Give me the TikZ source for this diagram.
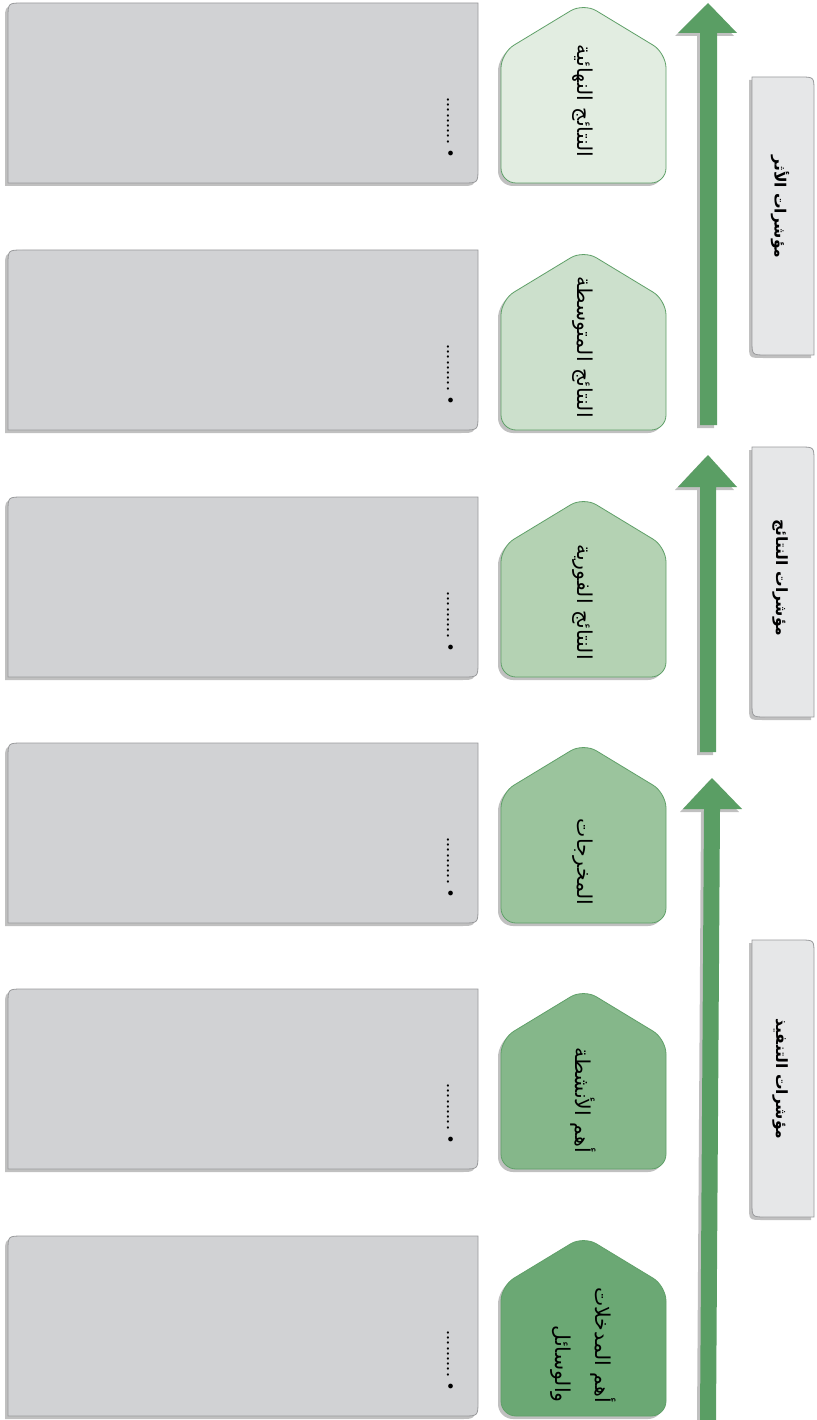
\documentclass[tikz,border=0pt]{standalone}
\usepackage{fontspec}
\usetikzlibrary{shadows}
\TeXXeTstate=1
\newfontfamily\arabicfont[Script=Arabic]{DejaVu Sans}
\definecolor{boxgray}{HTML}{D1D2D4}
\definecolor{boxedge}{HTML}{9A9B9D}
\definecolor{labelgray}{HTML}{E6E7E8}
\definecolor{arrowgreen}{HTML}{5A9E64}
\definecolor{pedge}{HTML}{5FA068}
\definecolor{pa}{HTML}{E2EDE1}
\definecolor{pb}{HTML}{CCE0CC}
\definecolor{pc}{HTML}{B4D2B3}
\definecolor{pd}{HTML}{9BC49D}
\definecolor{pe}{HTML}{85B78A}
\definecolor{pf}{HTML}{6BA874}
\newcommand{\dotrow}{.\kern0.2pt.\kern0.2pt.\kern0.2pt.\kern0.2pt.\kern0.2pt.\kern0.2pt.\kern0.2pt.\kern0.2pt.}
\begin{document}
\begin{tikzpicture}[x=1pt,y=-1pt,
  shad/.style={drop shadow={shadow xshift=-3pt,shadow yshift=-3pt,opacity=.35,fill=black!70}},
  graybox/.style={fill=boxgray,draw=boxedge,line width=0.8pt,shad},
  labelbox/.style={fill=labelgray,draw=boxedge,line width=0.8pt,shad},
  penta/.style={draw=pedge,line width=0.8pt,rounded corners=15pt,shad},
  fatarrow/.style={fill=arrowgreen,shad},
  ptext/.style={rotate=-90,font=\arabicfont\fontsize{20.5}{40}\selectfont,align=right,inner sep=0pt},
  ltext/.style={rotate=-90,font=\arabicfont\bfseries\fontsize{15.5}{18}\selectfont,inner sep=0pt},
  dtext/.style={rotate=-90,anchor=east,font=\bfseries\fontsize{16}{18}\selectfont,inner sep=0pt}]
\useasboundingbox (0,0) rectangle (816,1420);
\fill[white] (0,0) rectangle (816,1420);

% gray boxes and pentagons
\foreach \t/\c/\n in {3/pa/1,250/pb/2,497/pc/3,743/pd/4,989/pe/5,1236/pf/6}{
  \pgfmathsetmacro{\b}{\t+180}
  \draw[graybox] (8,\b) -- (8,\t+15) .. controls (8,\t) .. (23,\t) -- (478,\t)
     -- (478,\b-15) .. controls (478,\b) .. (463,\b) -- cycle;
  \node[dtext] (dots\n) at (450,\b-22) {\dotrow\,\textbullet};
  \draw[penta,fill=\c] (501,\b) -- (501,\t+50) -- (583.5,\t) -- (666,\t+50) -- (666,\b) -- cycle;
}

% pentagon texts
\node[ptext] (t1) at (583,101) {\beginR النتائج النهائية\endR};
\node[ptext] (t2) at (583,347) {\beginR النتائج المتوسطة\endR};
\node[ptext] (t3) at (583,602) {\beginR النتائج الفورية\endR};
\node[ptext] (t4) at (583,862) {\beginR المخرجات\endR};
\node[ptext] (t5) at (583,1100) {\beginR أهم الأنشطة\endR};
\node[ptext] (t6) at (583,1345) {\beginR أهم المدخلات\endR\\\beginR والوسائل\endR};

% arrows
\fill[fatarrow] (700,1420) -- (704,809) -- (683,809) -- (712,778) -- (742,809) -- (720,809) -- (716,1420) -- cycle;
\fill[fatarrow] (700,752) -- (700,487) -- (678,487) -- (708,455) -- (737,487) -- (716,487) -- (716,752) -- cycle;
\fill[fatarrow] (700,425) -- (700,33) -- (678,33) -- (708,3) -- (737,33) -- (717,33) -- (717,425) -- cycle;

% right label boxes
\foreach \t/\b in {77/355,447/717,940/1217}{
  \draw[labelbox] (752,\t) -- (800,\t) .. controls (814,\t) .. (814,\t+14) -- (814,\b)
     -- (766,\b) .. controls (752,\b) .. (752,\b-14) -- cycle;
}
\node[ltext] (l1) at (780,207) {\beginR مؤشرات الأثر\endR};
\node[ltext] (l2) at (780,578) {\beginR مؤشرات النتائج\endR};
\node[ltext] (l3) at (780,1079) {\beginR مؤشرات التنفيذ\endR};
\end{tikzpicture}
\end{document}
